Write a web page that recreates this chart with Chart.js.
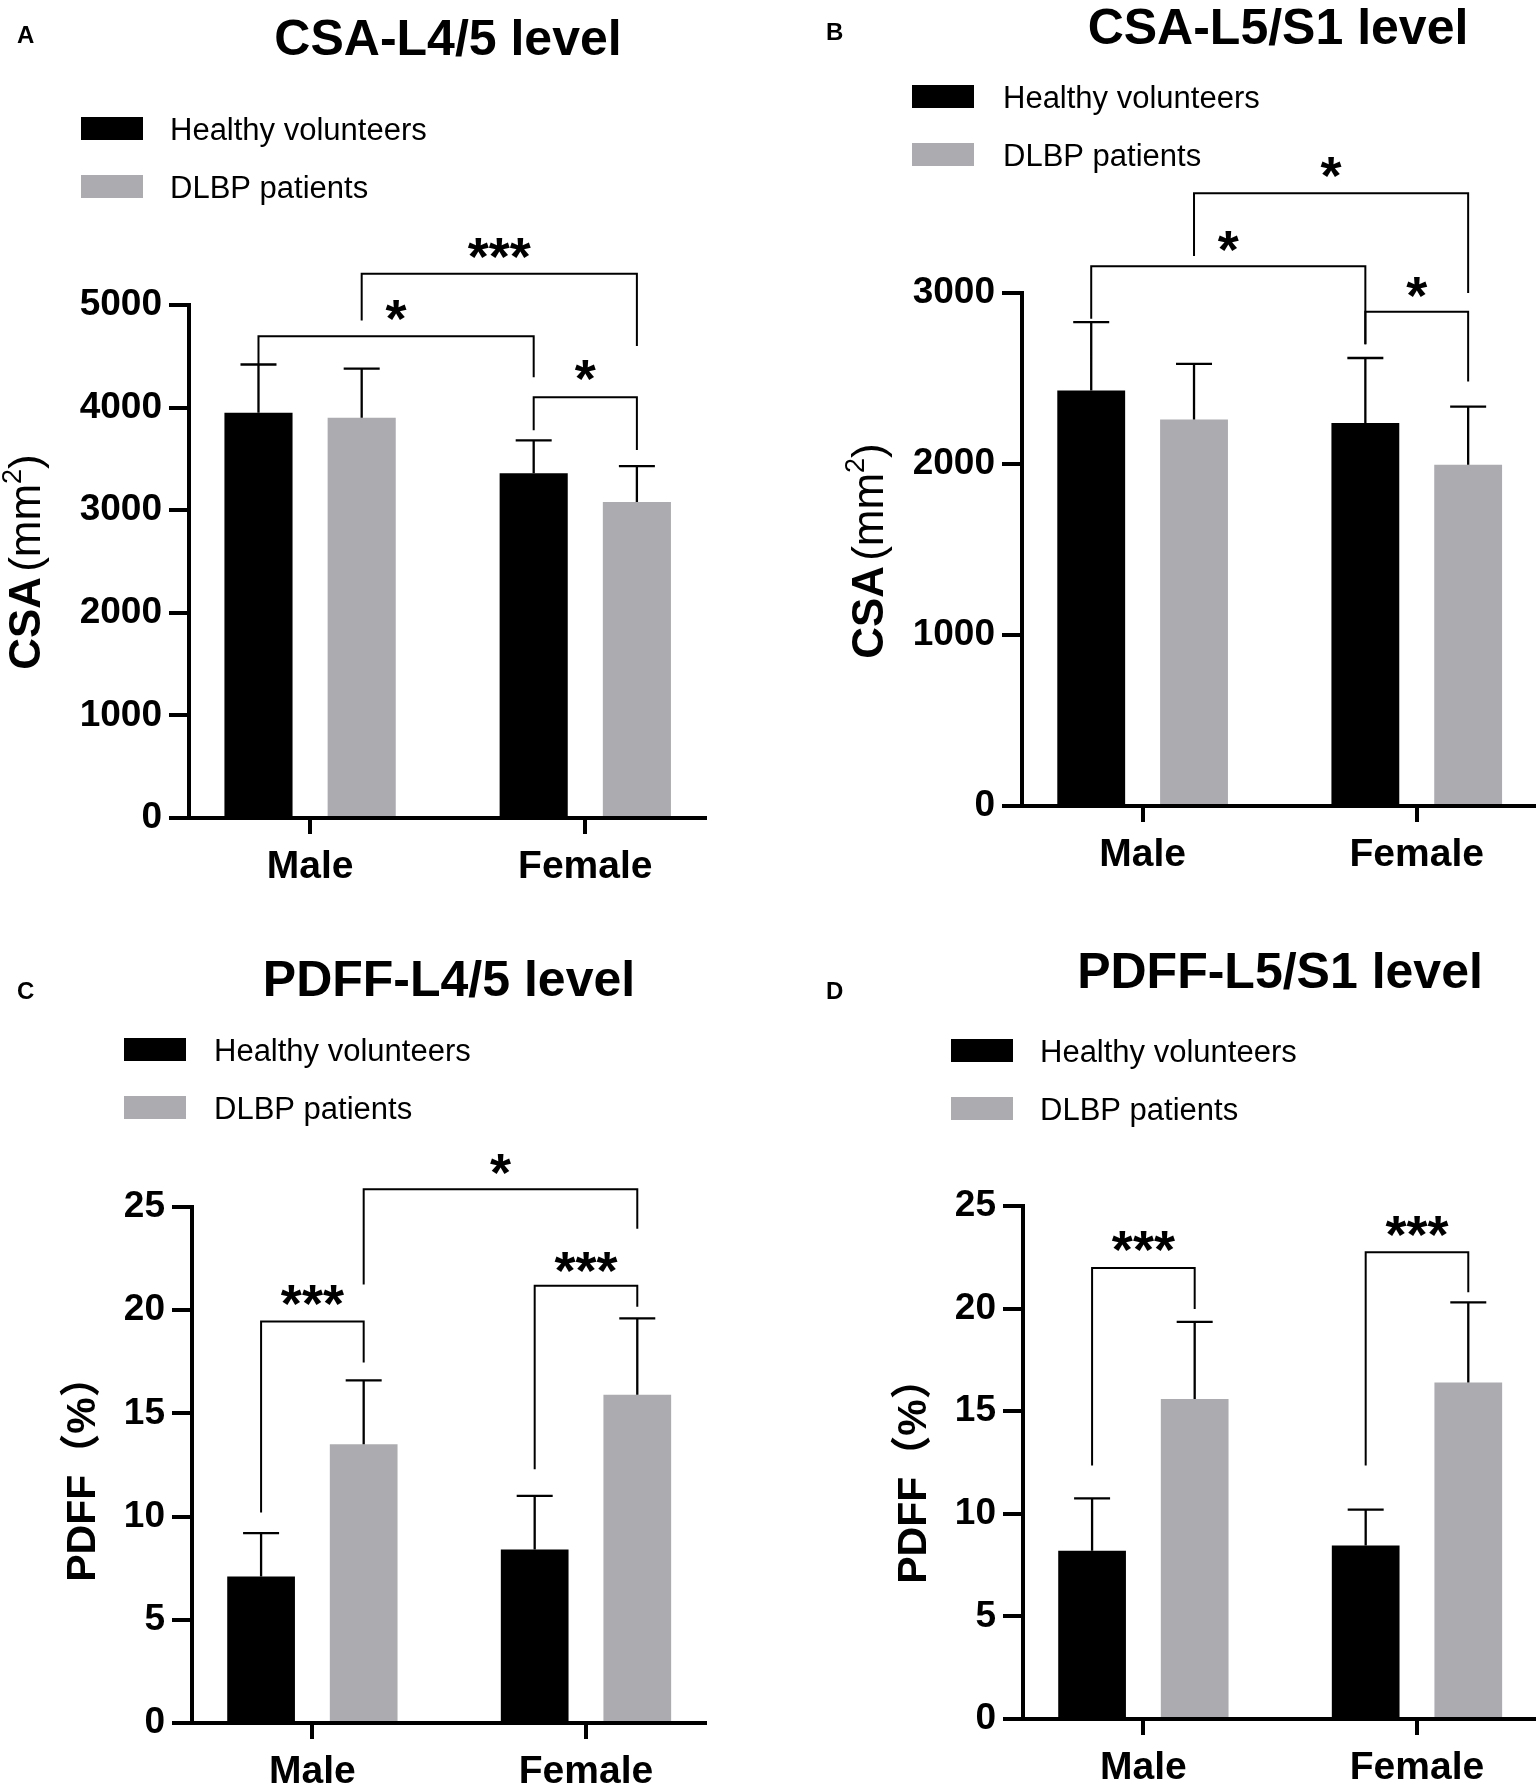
<!DOCTYPE html>
<html>
<head>
<meta charset="utf-8">
<title>CSA and PDFF by sex</title>
<script src="https://cdn.jsdelivr.net/npm/chart.js@4.4.1/dist/chart.umd.min.js"></script>
<style>
  body { margin: 0; background: #fff; width: 1536px; height: 1786px; position: relative; overflow: hidden; }
  .panel { position: absolute; width: 768px; height: 893px; }
</style>
</head>
<body>
<div class="panel" style="left:0;top:0"><canvas id="chartA" width="768" height="893"></canvas></div>
<div class="panel" style="left:768px;top:0"><canvas id="chartB" width="768" height="893"></canvas></div>
<div class="panel" style="left:0;top:893px"><canvas id="chartC" width="768" height="893"></canvas></div>
<div class="panel" style="left:768px;top:893px"><canvas id="chartD" width="768" height="893"></canvas></div>
<script>
const FONT = 'Arial, "Liberation Sans", "Noto Sans CJK SC", sans-serif';

const groups = ['Male', 'Female'];
const groupPos = [1, 2];
const seriesNames = ['Healthy volunteers', 'DLBP patients'];
const seriesColors = ['#000000', '#acacb0'];

// significance brackets:
// [dataset, group, dataset, group, bracket level, left leg end, right leg end, mark, mark level]

// A - CSA at L4/5 (mm2)
const csaL45Healthy = [3950, 3360];
const csaL45HealthySd = [470, 320];
const csaL45Dlbp = [3900, 3080];
const csaL45DlbpSd = [480, 350];
const csaL45Ticks = [0, 1000, 2000, 3000, 4000, 5000];
const csaL45Sig = [
  [0, 0, 0, 1, 4695, 4418, 4296, '*', 4945],
  [1, 0, 1, 1, 5305, 4850, 4601, '***', 5554],
  [0, 1, 1, 1, 4102, 3780, 3586, '*', 4362]
];

// B - CSA at L5/S1 (mm2)
const csaL5S1Healthy = [2430, 2240];
const csaL5S1HealthySd = [400, 380];
const csaL5S1Dlbp = [2260, 1995];
const csaL5S1DlbpSd = [325, 340];
const csaL5S1Ticks = [0, 1000, 2000, 3000];
const csaL5S1Sig = [
  [0, 0, 0, 1, 3157, 2850, 2700, '*', 3300],
  [1, 0, 1, 1, 3583, 3217, 3000, '*', 3733],
  [0, 1, 1, 1, 2890, 2700, 2483, '*', 3033]
];

// C - PDFF at L4/5 (%)
const pdffL45Healthy = [7.1, 8.4];
const pdffL45HealthySd = [2.1, 2.6];
const pdffL45Dlbp = [13.5, 15.9];
const pdffL45DlbpSd = [3.1, 3.7];
const pdffTicks = [0, 5, 10, 15, 20, 25];
const pdffL45Sig = [
  [0, 0, 1, 0, 19.45, 10.2, 17.47, '***', 20.7],
  [1, 0, 1, 1, 25.86, 21.25, 23.95, '*', 27.04],
  [0, 1, 1, 1, 21.19, 12.3, 20.17, '***', 22.3]
];

// D - PDFF at L5/S1 (%)
const pdffL5S1Healthy = [8.2, 8.45];
const pdffL5S1HealthySd = [2.55, 1.75];
const pdffL5S1Dlbp = [15.6, 16.4];
const pdffL5S1DlbpSd = [3.75, 3.9];
const pdffL5S1Sig = [
  [0, 0, 1, 0, 21.98, 12.35, 19.98, '***', 23.25],
  [0, 1, 1, 1, 22.75, 12.35, 20.8, '***', 24.0]
];

const csaTitle = [
  { t: 'CSA', size: 44, weight: 'bold' },
  { t: '(mm', size: 44, weight: 'normal', gap: 5 },
  { t: '2', size: 27, weight: 'normal', rise: -19 },
  { t: ')', size: 44, weight: 'normal' }
];
const pdffTitle = [{ t: 'PDFF（%）', size: 41, weight: 'bold' }];

function font(size, weight) {
  return (weight || 'normal') + ' ' + size + 'px ' + FONT;
}

function drawYTitle(ctx, parts, bx, cy) {
  const widths = parts.map(pt => { ctx.font = font(pt.size, pt.weight); return ctx.measureText(pt.t).width; });
  let total = 0;
  parts.forEach((pt, i) => { total += widths[i] + (pt.gap || 0); });
  ctx.save();
  ctx.translate(bx, cy);
  ctx.rotate(-Math.PI / 2);
  ctx.textBaseline = 'alphabetic';
  ctx.textAlign = 'left';
  let x = -total / 2;
  parts.forEach((pt, i) => {
    x += pt.gap || 0;
    ctx.font = font(pt.size, pt.weight);
    ctx.fillText(pt.t, x, pt.rise || 0);
    x += widths[i];
  });
  ctx.restore();
}

// text centred on its real glyph box (asterisks sit high in the em box)
function drawCentered(ctx, text, x, y) {
  const m = ctx.measureText(text);
  ctx.textAlign = 'center';
  ctx.textBaseline = 'alphabetic';
  ctx.fillText(text, x, y + (m.actualBoundingBoxAscent - m.actualBoundingBoxDescent) / 2);
}

function makePanel(canvasId, p) {
  const panelPlugin = {
    id: 'panelDecor',
    afterDatasetsDraw(chart) {
      const ctx = chart.ctx;
      const y = chart.scales.y;
      ctx.save();
      ctx.strokeStyle = '#000';
      ctx.lineWidth = 2.3;
      ctx.beginPath();
      chart.data.datasets.forEach((ds, di) => {
        chart.getDatasetMeta(di).data.forEach((bar, i) => {
          const top = y.getPixelForValue(ds.data[i].y + ds.sd[i]);
          ctx.moveTo(bar.x, bar.y);
          ctx.lineTo(bar.x, top);
          ctx.moveTo(bar.x - 18, top);
          ctx.lineTo(bar.x + 18, top);
        });
      });
      ctx.stroke();
      ctx.restore();
    },
    afterDraw(chart) {
      const ctx = chart.ctx;
      const y = chart.scales.y;
      ctx.save();
      ctx.fillStyle = '#000';
      ctx.strokeStyle = '#000';

      // brackets with stars
      ctx.lineWidth = 2;
      ctx.font = font(54, 'bold');
      p.sig.forEach(b => {
        const x1 = chart.getDatasetMeta(b[0]).data[b[1]].x;
        const x2 = chart.getDatasetMeta(b[2]).data[b[3]].x;
        const yl = y.getPixelForValue(b[4]);
        ctx.beginPath();
        ctx.moveTo(x1, y.getPixelForValue(b[5]));
        ctx.lineTo(x1, yl);
        ctx.lineTo(x2, yl);
        ctx.lineTo(x2, y.getPixelForValue(b[6]));
        ctx.stroke();
        drawCentered(ctx, b[7], (x1 + x2) / 2, y.getPixelForValue(b[8]));
      });

      // panel letter and title
      ctx.textBaseline = 'alphabetic';
      ctx.textAlign = 'left';
      ctx.font = font(24, 'bold');
      ctx.fillText(p.letter, p.letterPos[0], p.letterPos[1] + 8.6);
      ctx.textAlign = 'center';
      ctx.font = font(50, 'bold');
      ctx.fillText(p.title, p.titlePos[0], p.titlePos[1] + 18);

      // legend
      ctx.textAlign = 'left';
      ctx.font = font(31, 'normal');
      chart.data.datasets.forEach((ds, i) => {
        const by = p.legend[1] + i * 58;
        ctx.fillStyle = ds.backgroundColor;
        ctx.fillRect(p.legend[0], by, 62, 23);
        ctx.fillStyle = '#000';
        ctx.fillText(ds.label, p.legend[2], by + 23);
      });

      drawYTitle(ctx, p.yTitle, p.yTitlePos[0], p.yTitlePos[1]);
      ctx.restore();
    }
  };

  new Chart(document.getElementById(canvasId), {
    type: 'bar',
    data: {
      datasets: [
        {
          label: seriesNames[0],
          data: groupPos.map((x, i) => ({ x: x, y: p.healthy[i] })),
          sd: p.healthySd,
          backgroundColor: seriesColors[0],
          categoryPercentage: 0.75,
          barPercentage: 0.66
        },
        {
          label: seriesNames[1],
          data: groupPos.map((x, i) => ({ x: x, y: p.dlbp[i] })),
          sd: p.dlbpSd,
          backgroundColor: seriesColors[1],
          categoryPercentage: 0.75,
          barPercentage: 0.66
        }
      ]
    },
    options: {
      responsive: false,
      animation: false,
      events: [],
      layout: { padding: { top: p.box.top, right: 768 - p.box.right, left: 0, bottom: 0 } },
      scales: {
        x: {
          type: 'linear',
          offset: false,
          bounds: 'data',
          min: 0.56,
          max: 2.435,
          afterBuildTicks: s => { s.ticks = groupPos.map(v => ({ value: v })); },
          afterFit: s => { s.height = 893 - p.box.bottom; },
          ticks: {
            callback: (v, i) => groups[i],
            color: '#000',
            font: { family: FONT, size: 39, weight: 'bold' },
            padding: 10,
            maxRotation: 0,
            autoSkip: false
          },
          grid: { offset: false, drawOnChartArea: false, tickLength: 16, lineWidth: 4, color: '#000' },
          border: { width: 4, color: '#000' }
        },
        y: {
          min: 0,
          max: p.ticks[p.ticks.length - 1],
          afterBuildTicks: s => { s.ticks = p.ticks.map(v => ({ value: v })); },
          afterFit: s => { s.width = p.box.left; },
          ticks: {
            callback: v => String(v),
            color: '#000',
            font: { family: FONT, size: 37, weight: 'bold' },
            padding: 7
          },
          grid: { drawOnChartArea: false, tickLength: 20, lineWidth: 4, color: '#000' },
          border: { width: 4, color: '#000' }
        }
      },
      plugins: {
        legend: { display: false },
        tooltip: { enabled: false },
        title: { display: false }
      }
    },
    plugins: [panelPlugin]
  });
}

makePanel('chartA', {
  letter: 'A', letterPos: [17, 34], title: 'CSA-L4/5 level', titlePos: [448, 37],
  legend: [81, 117, 170], yTitle: csaTitle, yTitlePos: [40, 562],
  box: { left: 189, right: 705, top: 305, bottom: 818 },
  healthy: csaL45Healthy, healthySd: csaL45HealthySd, dlbp: csaL45Dlbp, dlbpSd: csaL45DlbpSd,
  ticks: csaL45Ticks, sig: csaL45Sig
});

makePanel('chartB', {
  letter: 'B', letterPos: [58, 31], title: 'CSA-L5/S1 level', titlePos: [510, 26],
  legend: [144, 85, 235], yTitle: csaTitle, yTitlePos: [115, 551],
  box: { left: 254, right: 768, top: 293, bottom: 806 },
  healthy: csaL5S1Healthy, healthySd: csaL5S1HealthySd, dlbp: csaL5S1Dlbp, dlbpSd: csaL5S1DlbpSd,
  ticks: csaL5S1Ticks, sig: csaL5S1Sig
});

makePanel('chartC', {
  letter: 'C', letterPos: [17, 97], title: 'PDFF-L4/5 level', titlePos: [449, 85],
  legend: [124, 145, 214], yTitle: pdffTitle, yTitlePos: [95, 576],
  box: { left: 192, right: 705, top: 314, bottom: 830 },
  healthy: pdffL45Healthy, healthySd: pdffL45HealthySd, dlbp: pdffL45Dlbp, dlbpSd: pdffL45DlbpSd,
  ticks: pdffTicks, sig: pdffL45Sig
});

makePanel('chartD', {
  letter: 'D', letterPos: [58, 97], title: 'PDFF-L5/S1 level', titlePos: [512, 77],
  legend: [183, 146, 272], yTitle: pdffTitle, yTitlePos: [158, 578],
  box: { left: 255, right: 768, top: 313, bottom: 826 },
  healthy: pdffL5S1Healthy, healthySd: pdffL5S1HealthySd, dlbp: pdffL5S1Dlbp, dlbpSd: pdffL5S1DlbpSd,
  ticks: pdffTicks, sig: pdffL5S1Sig
});
</script>
</body>
</html>
